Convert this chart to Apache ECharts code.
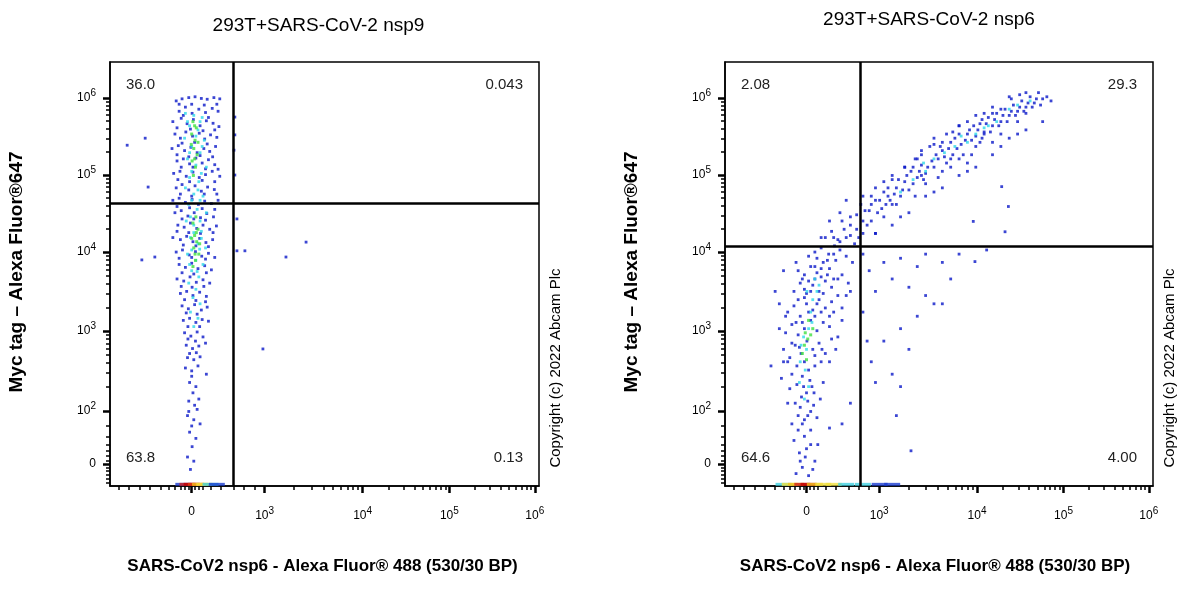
<!DOCTYPE html>
<html><head><meta charset="utf-8">
<script src="https://cdn.jsdelivr.net/npm/echarts@6/dist/echarts.min.js"></script>
<style>html,body{margin:0;background:#fff}#c{width:1200px;height:600px}</style>
</head><body><div id="c"></div>
<script>
// Display channel units (0-1024) for the logicle-like scales
const xTickPos = [195, 369, 603, 810, 1014];
const xTickLabels = ['0', '10{s|3}', '10{s|4}', '10{s|5}', '10{s|6}'];
const yTickPos = [53, 181, 374, 565, 751, 937];
const yTickLabels = ['0', '10{s|2}', '10{s|3}', '10{s|4}', '10{s|5}', '10{s|6}'];

const titles = ['293T+SARS-CoV-2 nsp9', '293T+SARS-CoV-2 nsp6'];
const gatesX = [294, 323];
const gatesY = [683, 580];
const quadLabels = [['36.0', '0.043', '63.8', '0.13'], ['2.08', '29.3', '64.6', '4.00']];

const leftBlue = [[158,930],[172,935],[188,938],[203,940],[218,936],[232,934],[248,938],[262,935],
[165,905],[180,915],[196,900],[212,910],[228,902],[244,912],[258,905],
[150,880],[170,888],[184,875],[199,885],[215,870],[230,882],[246,876],[260,868],
[155,850],[168,840],[181,855],[197,845],[213,852],[226,838],[240,848],[255,842],
[148,815],[163,822],[178,810],[193,818],[208,805],[224,815],[238,808],[252,820],
[160,785],[175,790],[190,778],[205,792],[220,780],[235,788],[250,776],
[152,755],[167,760],[182,748],[198,758],[213,745],[228,752],[244,760],[262,748],
[158,720],[172,728],[188,715],[203,725],[218,712],[233,722],[249,716],
[150,690],[165,695],[180,685],[196,692],[211,680],[226,688],[242,682],[258,690],
[155,660],[170,665],[186,652],[201,660],[216,648],[231,658],[247,650],
[162,630],[177,625],[192,635],[207,622],[222,630],[238,620],[254,628],
[150,600],[168,595],[183,603],[198,590],[214,598],[229,588],[245,595],
[158,565],[173,570],[189,558],[204,566],[219,555],[235,562],[250,552],
[165,535],[180,528],[195,538],[210,525],[226,532],[242,522],
[160,500],[176,495],[191,505],[206,492],[222,498],[238,490],
[168,465],[183,470],[198,460],[214,468],[230,458],
[172,435],[187,428],[202,438],[218,425],[232,432],
[175,400],[190,405],[205,395],[220,402],[235,398],
[178,370],[193,362],[208,372],[222,360],
[182,340],[197,332],[212,338],[228,345],
[185,310],[200,305],[215,312],
[180,285],[195,278],[210,290],[230,270],
[190,250],[205,240],[198,225],[188,205],[202,195],[212,210],
[185,170],[200,160],[215,150],[190,130],[205,115],[196,95],
[185,70],[200,60],[192,40],
[41,823],[84,840],[91,722],[76,546],[107,553],[468,589],[420,553],[365,331],[303,568],[322,568],
[298,891],[298,848],[298,751],[296,811],[303,645],
[165,922],[195,922],[225,920],[255,922],[175,895],[235,890],[160,865],[192,862],[222,858],[250,860],
[172,828],[202,830],[232,826],[160,800],[188,795],[215,798],[245,795],[170,770],[198,770],[228,766],[258,765],
[162,740],[190,735],[220,738],[250,735],[168,705],[195,700],[225,705],[255,705],[160,675],[190,672],[220,670],[250,668],
[172,645],[200,645],[228,642],[160,615],[188,612],[216,610],[246,612],[175,582],[205,580],[235,578],[165,550],[195,552],[228,548],
[172,515],[200,512],[230,515],[170,482],[196,480],[224,482],[178,450],[205,448],[228,445],[182,418],[208,415],[186,385],[214,385],
[186,355],[204,350],[190,320],[206,322],[195,265],[188,180],[208,185],[195,145]];
const leftCyan = [[180,900],[200,895],[220,890],[190,870],[210,860],[178,840],[225,835],[195,820],[215,805],[185,790],[205,775],[230,770],[190,745],[212,735],[180,720],[200,705],[222,700],[188,680],[208,668],[230,660],[182,640],[200,630],[218,615],[192,600],[210,585],[228,575],[185,560],[205,545],[222,535],[195,520],[212,505],[188,490],[205,475],[198,455],[215,440],[192,420],[210,405],[200,385],
[185,880],[215,880],[205,845],[190,805],[220,820],[195,760],[218,755],[210,715],[195,690],[215,690],[192,650],[215,640],[200,612],[218,598],[195,570],[214,572],[190,535],[208,518]];
const leftGreen = [[198,880],[206,865],[195,850],[203,835],[200,815],[208,800],[196,785],[204,770],[199,750],[205,650],[198,635],[210,620],[202,605],[207,590],[200,575],[212,560],[204,545],[198,530],
[202,870],[194,825],[210,830],[202,790],[206,612],[195,598],[214,585],[203,560]];
const leftFloor = [[175,4,'#1a3cd0'],[185,4,'#d02020'],[195,4,'#c00000'],[205,4,'#e04010'],[215,4,'#f0c020'],[225,4,'#f0e040'],[240,4,'#40d0e0'],[255,4,'#1a3cd0']];

const rightBlue = [[170,30],[185,45],[200,25],[215,60],[178,80],[195,90],[210,40],[165,110],[190,120],[205,135],[222,100],
[160,150],[175,170],[190,160],[205,180],[220,165],[168,200],[183,215],[198,205],[213,225],[228,210],[155,235],[172,245],[188,240],[203,255],[235,250],[160,270],[150,300],
[140,330],[155,310],[168,340],[182,320],[196,350],[210,330],[225,345],[240,320],[255,355],[145,370],[160,390],[175,365],[190,380],[205,400],[220,375],[235,395],[250,385],[270,360],[150,420],[165,435],[180,410],[195,440],[210,425],[225,450],[240,430],[260,420],[280,400],[130,440],
[165,470],[180,490],[195,465],[210,485],[225,470],[240,495],[255,480],[270,460],[175,520],[190,510],[205,530],[220,515],[235,540],[250,525],[265,545],[280,510],[295,490],[200,555],[215,565],[230,575],[248,560],[262,580],[275,570],[290,555],[305,540],[240,600],[255,615],[270,595],[285,620],[300,605],[310,585],
[300,630],[315,655],[330,640],[325,680],[345,665],[360,690],[350,640],[375,670],[380,710],[395,690],[410,720],[400,740],[420,700],[430,735],[445,760],[440,715],[460,745],[470,775],[455,790],[480,755],[495,785],[505,800],[490,820],[520,810],[530,780],[540,830],[555,815],[560,850],[575,835],[585,860],[570,800],[600,845],[610,875],[620,855],[630,890],[640,870],[650,900],[660,880],[670,910],[680,895],[690,920],[700,905],[710,930],[720,915],[730,940],[705,945],[740,925],[760,935],[780,930],[660,850],[640,830],[600,820],[580,780],[620,900],[560,870],[500,840],[520,760],[430,770],[410,680],[380,650],[350,700],[330,610],[360,610],
[330,560],[345,520],[360,470],[380,540],[400,500],[420,550],[440,480],[460,530],[480,560],[500,440],[520,540],[540,500],[460,410],[420,380],[380,350],[350,300],[400,270],[440,330],[520,440],[560,560],[480,460],[330,420],[340,350],[360,250],[300,200],[280,150],[250,140],[410,170],[445,85],[420,240],
[170,540],[140,520],[120,470],[110,290],[230,600],[250,640],[275,660],[290,690],
[662,723],[678,675],[670,614],[594,639],[598,542],[626,570],
[180,60],[192,70],[205,100],[175,135],[185,150],[198,170],[212,195],[180,190],[195,225],[208,240],[185,265],[200,280],[215,290],[230,300],[172,290],
[160,345],[178,335],[190,300],[215,315],[232,330],[170,395],[185,395],[200,420],[215,410],[230,420],[250,410],[175,450],[190,455],[205,470],[220,440],[255,445],[190,475],[235,465],[185,500],[200,495],[215,500],[230,505],[245,510],[260,500],
[215,530],[230,525],[245,545],[220,550],[260,560],[275,590],[290,600],[260,600],[280,640],[300,650],[315,620],[320,600],
[335,665],[350,680],[365,660],[370,690],[385,680],[390,720],[405,705],[415,740],[425,715],[435,750],[450,730],[465,760],[475,740],[485,770],[500,770],[510,790],[515,820],[525,795],[535,815],[545,800],[550,840],[565,825],[580,850],[590,835],[595,870],[605,860],[615,840],[625,875],[635,855],[645,885],[655,870],[665,895],[675,880],[685,905],[695,895],[705,915],[715,905],[725,925],[735,915],[745,935],[755,920],[770,940],
[470,800],[450,770],[520,830],[540,770],[610,830],[560,790],[640,900],[685,935],[700,880],[660,910],[720,950],[750,950],[480,730],[400,680],[340,630],
[330,700],[360,720],[400,750],[430,770],[460,790],[500,825],[530,850],[560,870],[600,895],[640,915],[680,940],[380,735],[470,810],[580,880],
[360,610],[400,630],[440,660],[480,700],[520,720],[560,750],[600,770],[640,800],[680,840],[720,860],[760,880],[420,650],[500,710],[580,760],[660,820],[700,850],
[390,700],[470,750],[540,790],[620,850],[720,900],[455,700],[510,745],[590,800],[545,855],[615,885],
[130,380],[145,410],[280,430],[290,460],[300,470],[270,500],[140,300],[135,260],[150,200],[250,300],[265,330]];
const rightCyan = [[180,300],[195,330],[188,360],[200,380],[205,420],[192,280],[210,450],[178,250],[215,500],[200,240],[220,470],[450,740],[500,790],[550,820],[600,850],[650,880],[700,920],[480,760],[580,830],[420,710],[620,865],
[182,340],[208,395],[196,470],[225,485],[190,210],[475,780],[525,805],[565,845],[630,870],[680,910],[730,930]];
const rightGreen = [[190,340],[198,355],[185,320],[205,365],[200,400],[195,305],[192,370],[210,380]];
const rightFloor = [[140,4,'#40d0e0'],[155,4,'#f0e040'],[170,4,'#f0c020'],[185,4,'#d02020'],[200,4,'#c00000'],[215,4,'#f0c020'],[235,4,'#f0e040'],[260,4,'#f0e040'],[290,4,'#40d0e0'],[330,4,'#40d0e0'],[370,4,'#1a3cd0'],[400,4,'#1a3cd0']];

// minor tick positions (log-interpolated within decades)
function minors(pos, startIdx) {
  const out = [];
  for (let i = startIdx; i < pos.length - 1; i++)
    for (let k = 2; k <= 9; k++) out.push(pos[i] + (pos[i+1]-pos[i]) * Math.log10(k));
  return out;
}
const xMinor = [20,45,70,95,120,140,155,168,178,188,202,212,222,240,265,295,320,345].concat(minors(xTickPos,1));
const yMinor = [8,18,28,36,44,62,72,85,100,120,145].concat(minors(yTickPos,1));

const grids = [{left:110, top:62, width:429, height:424}, {left:725, top:62, width:428, height:424}];
const xAxes = [], yAxes = [], series = [], graphics = [];
const blues = [leftBlue, rightBlue], cyans = [leftCyan, rightCyan], greens = [leftGreen, rightGreen], floors = [leftFloor, rightFloor];
const rich = {s:{fontSize:10, verticalAlign:'top', padding:[0,0,9,0], fontFamily:'Liberation Sans'}};
grids.forEach((g, i) => {
  const lab = (pos, txt) => v => { const j = pos.findIndex(p => Math.abs(p-v) < 0.5); return j < 0 ? '' : txt[j]; };
  xAxes.push({gridIndex:i, type:'value', min:0, max:1024, position:'bottom', splitLine:{show:false},
    axisLine:{lineStyle:{color:'#000', width:1.5}},
    axisTick:{customValues:xTickPos, length:7, lineStyle:{color:'#000', width:2.5}},
    axisLabel:{customValues:xTickPos, formatter:lab(xTickPos,xTickLabels), rich, color:'#000', fontSize:12, margin:20, fontFamily:'Liberation Sans'}});
  xAxes.push({gridIndex:i, type:'value', min:0, max:1024, position:'bottom', splitLine:{show:false},
    axisLine:{show:false}, axisLabel:{show:false},
    axisTick:{customValues:xMinor, length:4, lineStyle:{color:'#000', width:1.5}}});
  yAxes.push({gridIndex:i, type:'value', min:0, max:1024, position:'left', splitLine:{show:false},
    axisLine:{lineStyle:{color:'#000', width:1.5}},
    axisTick:{customValues:yTickPos, length:7, lineStyle:{color:'#000', width:2.5}},
    axisLabel:{customValues:yTickPos, formatter:lab(yTickPos,yTickLabels), rich, color:'#000', fontSize:12, margin:14, fontFamily:'Liberation Sans'}});
  yAxes.push({gridIndex:i, type:'value', min:0, max:1024, position:'left', splitLine:{show:false},
    axisLine:{show:false}, axisLabel:{show:false},
    axisTick:{customValues:yMinor, length:4, lineStyle:{color:'#000', width:1.5}}});
  const xi = i*2, yi = i*2;
  const sc = (data, color, size) => ({type:'scatter', xAxisIndex:xi, yAxisIndex:yi, data, symbol:'rect', symbolSize:size, itemStyle:{color}, silent:true, z:3});
  series.push(sc(blues[i], '#0a18c8', 2.8));
  series.push(sc(cyans[i], '#30d8e8', 2.8));
  series.push(sc(greens[i], '#40e040', 3));
  series.push({type:'scatter', xAxisIndex:xi, yAxisIndex:yi, symbol:'rect', symbolSize:[16,3], silent:true, z:3,
    data: floors[i].map(d => ({value:[d[0], d[1]], itemStyle:{color:d[2]}}))});
  series.push({type:'line', xAxisIndex:xi, yAxisIndex:yi, data:[], silent:true, z:5,
    markLine:{symbol:'none', silent:true, label:{show:false}, lineStyle:{color:'#000', width:2.5, type:'solid'},
      data:[{xAxis:gatesX[i]}, {yAxis:gatesY[i]}]}});
  const L = g.left, R = g.left + g.width;
  const q = quadLabels[i];
  const tstyle = (t, x, y, align) => ({type:'text', x, y, style:{text:t, fill:'#222', font:'15px "Liberation Sans"', align, verticalAlign:'middle'}});
  graphics.push(tstyle(q[0], L+16, 85, 'left'), tstyle(q[1], R-16, 85, 'right'), tstyle(q[2], L+16, 458, 'left'), tstyle(q[3], R-16, 458, 'right'));
  graphics.push({type:'text', x:(L+R)/2 + (i?-10:-6), y:i?20:26, style:{text:titles[i], fill:'#000', font:'19px "Liberation Sans"', align:'center', verticalAlign:'middle'}});
  graphics.push({type:'text', x:(L+R)/2 + (i?-4:-2), y:566, style:{text:'SARS-CoV2 nsp6 - Alexa Fluor® 488 (530/30 BP)', fill:'#000', font:'bold 17px "Liberation Sans"', align:'center', verticalAlign:'middle'}});
  graphics.push({type:'text', x:L-93, y:272, rotation:Math.PI/2, style:{text:'Myc tag – Alexa Fluor®647', fill:'#000', font:'bold 19px "Liberation Sans"', align:'center', verticalAlign:'middle'}});
  graphics.push({type:'text', x:R+17, y:368, rotation:Math.PI/2, style:{text:'Copyright (c) 2022 Abcam Plc', fill:'#000', font:'15px "Liberation Sans"', align:'center', verticalAlign:'middle'}});
});
const chart = echarts.init(document.getElementById('c'));
chart.setOption({
  animation:false, backgroundColor:'#fff',
  grid: grids.map(g => Object.assign({show:true, borderColor:'#000', borderWidth:1.5, backgroundColor:'transparent'}, g)),
  xAxis:xAxes, yAxis:yAxes, series, graphic:graphics
});
</script></body></html>
